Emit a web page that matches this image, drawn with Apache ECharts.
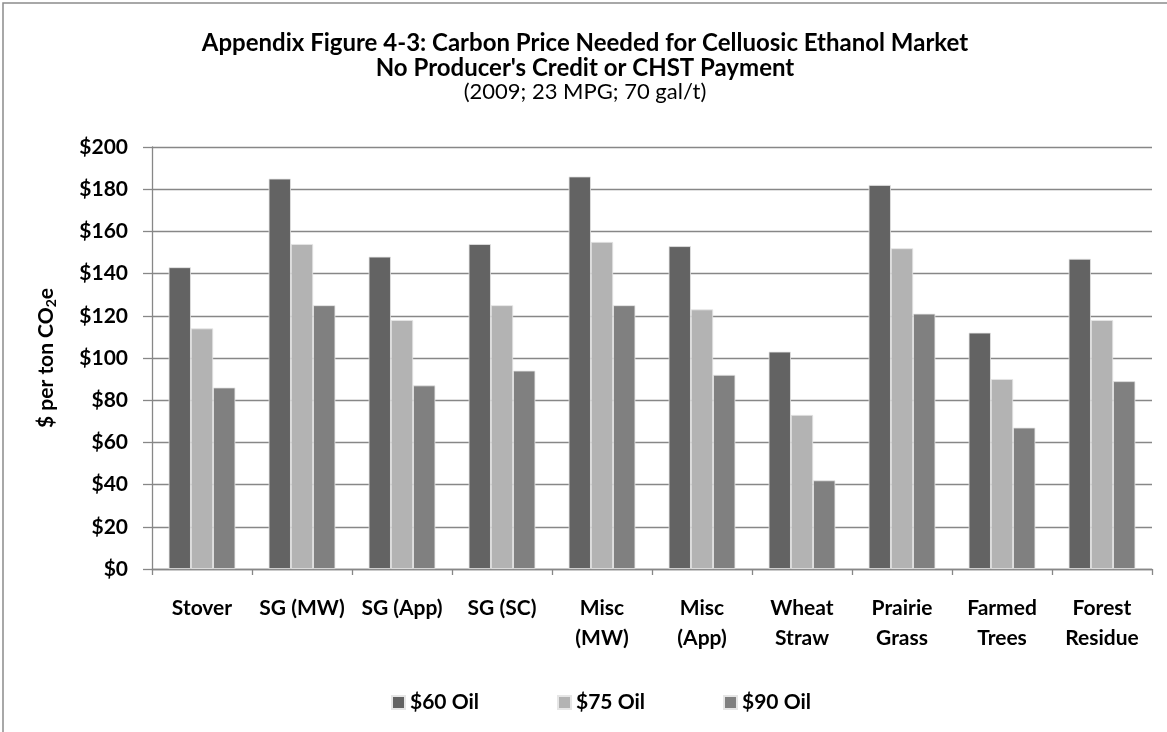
<!DOCTYPE html>
<html>
<head>
<meta charset="utf-8">
<script src="https://cdn.jsdelivr.net/npm/echarts@6/dist/echarts.min.js"></script>
<style>
  html, body { margin: 0; padding: 0; background: #fff; }
  #chart { width: 1167px; height: 732px; }
</style>
</head>
<body>
<div id="chart"></div>
<script>
// Feedstock categories (x axis)
const categories = [
  'Stover', 'SG (MW)', 'SG (App)', 'SG (SC)', 'Misc\n(MW)',
  'Misc\n(App)', 'Wheat\nStraw', 'Prairie\nGrass', 'Farmed\nTrees', 'Forest\nResidue'
];

// Carbon price needed ($ per ton CO2e) at each oil price
const oil60 = [143, 185, 148, 154, 186, 153, 103, 182, 112, 147];
const oil75 = [114, 154, 118, 125, 155, 123, 73, 152, 90, 118];
const oil90 = [86, 125, 87, 94, 125, 92, 42, 121, 67, 89];

const seriesNames = ['$60 Oil', '$75 Oil', '$90 Oil'];
const seriesColors = ['#636363', '#b3b3b3', '#808080'];

// y axis ticks
const yMin = 0, yMax = 200, yStep = 20;

// Title lines
const titleLines = [
  'Appendix Figure 4-3: Carbon Price Needed for Celluosic Ethanol Market',
  "No Producer's Credit or CHST Payment"
];
const subTitle = '(2009; 23 MPG; 70 gal/t)';

const FONT = 'Lato, "Open Sans", "Noto Sans", sans-serif';
const AXIS_GREY = '#878787';

const chart = echarts.init(document.getElementById('chart'));

const makeSeries = (name, data, color) => ({
  name: name,
  type: 'bar',
  data: data,
  barGap: '0%',
  barCategoryGap: '33.3%',
  itemStyle: { color: color, borderColor: '#e6e6e6', borderWidth: 0.8 },
  emphasis: { disabled: true }
});

const titleText = (text, y, size, weight) => ({
  type: 'text',
  x: 585,
  y: y,
  silent: true,
  style: {
    text: text,
    fill: '#000',
    font: weight + ' ' + size + 'px ' + FONT,
    textAlign: 'center',
    textVerticalAlign: 'middle'
  }
});

chart.setOption({
  animation: false,
  backgroundColor: '#ffffff',
  graphic: [
    {
      type: 'rect',
      shape: { x: 3, y: 3, width: 1300, height: 900 },
      style: { fill: 'none', stroke: '#8c8c8c', lineWidth: 1.5 },
      silent: true
    },
    titleText(titleLines[0], 43, 24, 'bold'),
    titleText(titleLines[1], 68, 24, 'bold'),
    titleText(subTitle, 92, 22, 'normal')
  ],
  legend: {
    data: seriesNames,
    top: 687,
    left: 386,
    itemWidth: 13,
    itemHeight: 13,
    itemGap: 78,
    icon: 'rect',
    textStyle: { fontFamily: FONT, fontWeight: 'bold', fontSize: 21, color: '#000', padding: [0, 0, 0, 0] }
  },
  grid: { left: 152, right: 15, top: 147, bottom: 163, containLabel: false },
  xAxis: {
    type: 'category',
    data: categories,
    axisLine: { lineStyle: { color: AXIS_GREY, width: 1.3 } },
    axisTick: { show: true, alignWithLabel: false, length: 6, lineStyle: { color: AXIS_GREY, width: 1.3 } },
    axisLabel: {
      interval: 0,
      margin: 24,
      lineHeight: 30,
      fontFamily: FONT, fontWeight: 'bold', fontSize: 21, color: '#000'
    }
  },
  yAxis: {
    type: 'value',
    min: yMin, max: yMax, interval: yStep,
    name: '{a|$ per ton CO}{s|2}{a|e}',
    nameLocation: 'middle',
    nameGap: 94,
    nameRotate: 90,
    nameTextStyle: {
      rich: {
        a: { fontFamily: FONT, fontWeight: 'bold', fontSize: 21, color: '#000' },
        s: { fontFamily: FONT, fontWeight: 'bold', fontSize: 14, color: '#000', verticalAlign: 'bottom', padding: [10, 0, 0, 0] }
      }
    },
    axisLine: { show: true, lineStyle: { color: AXIS_GREY, width: 1.3 } },
    axisTick: { show: true, length: 9, lineStyle: { color: AXIS_GREY, width: 1.3 } },
    splitLine: { show: true, lineStyle: { color: AXIS_GREY, width: 1.3 } },
    axisLabel: {
      margin: 24,
      formatter: v => '$' + v,
      fontFamily: FONT, fontWeight: 'bold', fontSize: 21, color: '#000'
    }
  },
  series: [
    makeSeries(seriesNames[0], oil60, seriesColors[0]),
    makeSeries(seriesNames[1], oil75, seriesColors[1]),
    makeSeries(seriesNames[2], oil90, seriesColors[2])
  ]
});
</script>
</body>
</html>
